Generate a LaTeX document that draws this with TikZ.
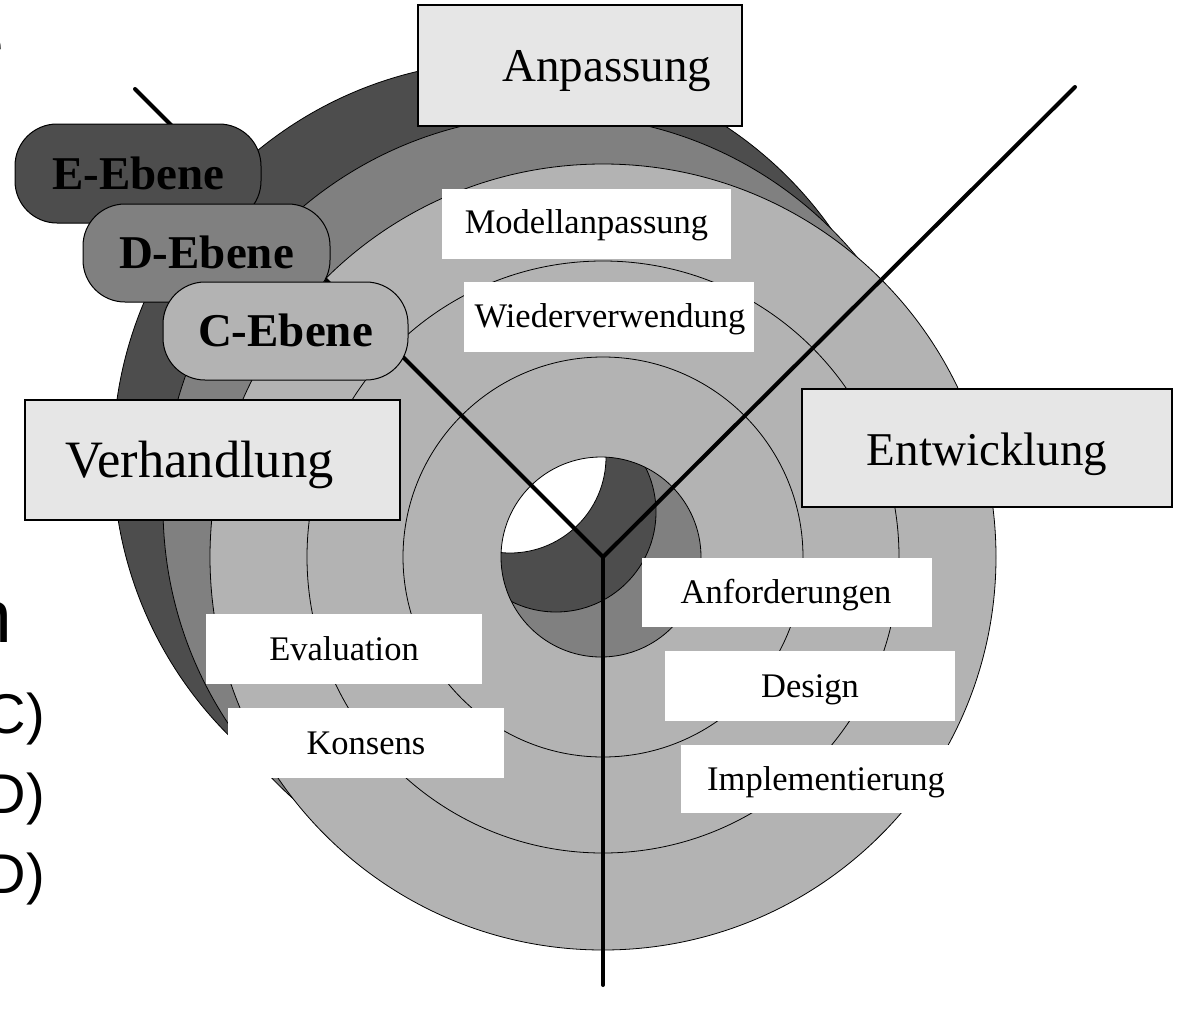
\documentclass[tikz,border=0pt]{standalone}
\usepackage{fontspec}
\setmainfont{Liberation Serif}
\newfontfamily\sansf{Liberation Sans}
\definecolor{dkg}{RGB}{77,77,77}
\definecolor{mdg}{RGB}{128,128,128}
\definecolor{ltg}{RGB}{179,179,179}
\definecolor{bxg}{RGB}{230,230,230}
\begin{document}
\begin{tikzpicture}[x=1pt,y=-1pt,
  ring/.style={draw=black,line width=0.8pt},
  axisline/.style={line width=4pt,line cap=round},
  phasebox/.style={draw=black,line width=1.2pt,fill=bxg,inner sep=0pt},
  actbox/.style={fill=white,inner sep=0pt,minimum width=290pt,minimum height=70pt},
  lvl/.style={draw=black,line width=1pt,rounded corners=42pt,inner sep=0pt},
  bigtxt/.style={font=\fontsize{47}{50}\selectfont,anchor=base,inner sep=0pt},
  smalltxt/.style={font=\fontsize{34.5}{38}\selectfont,anchor=base,inner sep=0pt},
  lvltxt/.style={font=\fontsize{47}{50}\selectfont\bfseries,anchor=base,inner sep=0pt},
  sidetxt/.style={font=\sansf\fontsize{56}{60}\selectfont,anchor=base east,inner sep=0pt}]

\useasboundingbox (0,0) rectangle (1178,1012);
\fill[white] (0,0) rectangle (1178,1012);

% left cut-off text
\node[sidetxt] (t1) at (4,63) {e};
\node[sidetxt,font=\sansf\fontsize{75}{80}\selectfont] (t2) at (12,642) {n};
\node[sidetxt] (t3) at (45,733) {C)};
\node[sidetxt] (t4) at (45,813) {D)};
\node[sidetxt] (t5) at (45,893) {D)};

% spiral levels
\draw[ring,fill=dkg] (508,456) circle[radius=395pt];
\draw[ring,fill=mdg] (555,507) circle[radius=392pt];
\draw[ring,fill=ltg] (603,557) circle[radius=393pt];
\draw[ring] (603,557) circle[radius=296pt];
\draw[ring] (603,557) circle[radius=200pt];

% core
\begin{scope}
  \clip (601,557) circle[radius=100pt];
  \fill[mdg] (601,557) circle[radius=100pt];
  \draw[ring,fill=dkg] (556,512) circle[radius=100pt];
  \draw[ring,fill=white] (510,457) circle[radius=96pt];
\end{scope}
\draw[ring] (601,557) circle[radius=100pt];

% axes
\coordinate (O) at (603,557);
\coordinate (NE) at (1075,87);
\coordinate (NW) at (135,89);
\coordinate (S) at (603,985);
\draw[axisline] (O) -- (NE);
\draw[axisline] (O) -- (NW);
\draw[axisline] (O) -- (S);

% level pills
\node[lvl,fill=dkg,minimum width=246pt,minimum height=99pt] (E) at (138,173.5) {};
\node[lvltxt] (Et) at (138.5,189) {E-Ebene};
\node[lvl,fill=mdg,minimum width=247pt,minimum height=98pt] (D) at (206.5,253) {};
\node[lvltxt] (Dt) at (206.5,268.5) {D-Ebene};
\node[lvl,fill=ltg,minimum width=245pt,minimum height=98pt] (C) at (285.5,331) {};
\node[lvltxt] (Ct) at (285.5,346.5) {C-Ebene};

% phase boxes
\node[phasebox,minimum width=324pt,minimum height=121pt] (anpbox) at (580,65.5) {};
\node[bigtxt] (anp) at (607,81) {Anpassung};
\node[phasebox,minimum width=375pt,minimum height=120pt] (verbox) at (212.5,460) {};
\node[bigtxt,font=\fontsize{52.5}{56}\selectfont] (ver) at (199.5,477) {Verhandlung};
\node[phasebox,minimum width=370pt,minimum height=118pt] (entbox) at (987,448) {};
\node[bigtxt] (ent) at (987,465) {Entwicklung};

% activity boxes
\node[actbox,minimum width=289pt] (modbox) at (586.5,224) {};
\node[smalltxt] (mod) at (586.5,233) {Modellanpassung};
\node[actbox] (wiebox) at (609,317) {};
\node[smalltxt] (wie) at (610,327) {Wiederverwendung};
\node[actbox,minimum height=69pt] (anfbox) at (787,592.5) {};
\node[smalltxt] (anf) at (786,603) {Anforderungen};
\node[actbox] (desbox) at (810,686) {};
\node[smalltxt] (des) at (810,697) {Design};
\node[actbox,minimum width=289pt,minimum height=68pt] (impbox) at (825.5,779) {};
\node[smalltxt] (imp) at (826,790) {Implementierung};
\node[actbox,minimum width=276pt] (evabox) at (344,649) {};
\node[smalltxt] (eva) at (344,660) {Evaluation};
\node[actbox,minimum width=276pt] (konbox) at (366,743) {};
\node[smalltxt] (kon) at (366,754) {Konsens};
\end{tikzpicture}
\end{document}
